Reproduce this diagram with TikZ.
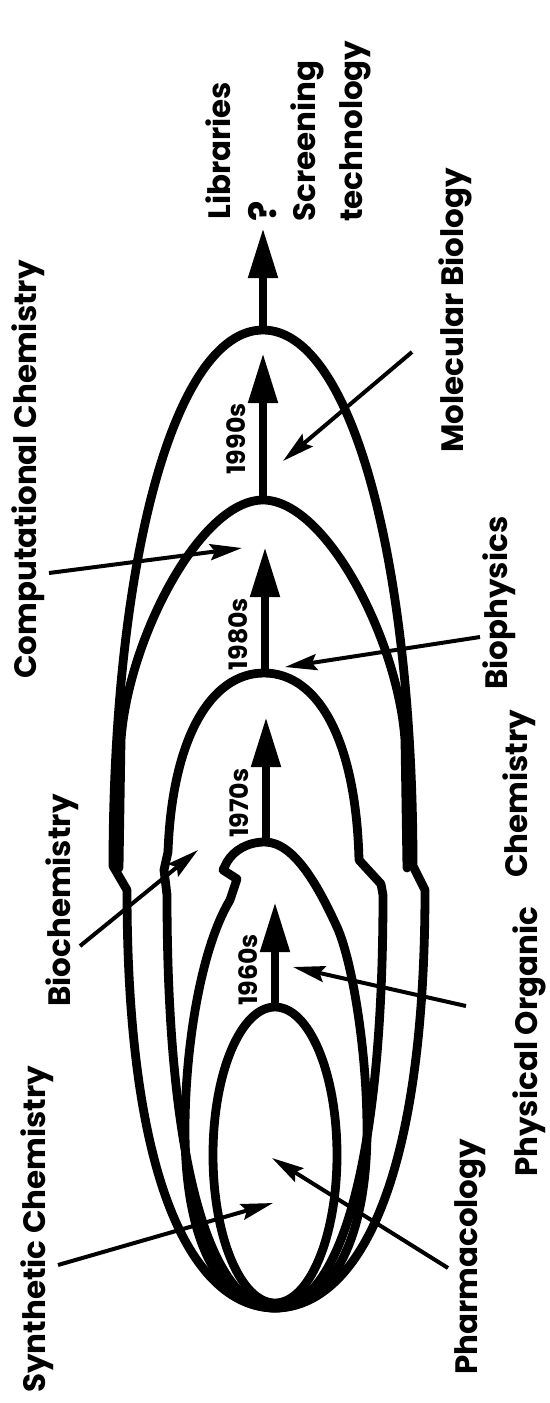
\documentclass[tikz,border=0pt]{standalone}
\usepackage{fontspec}
\setmainfont{Poppins}
\usetikzlibrary{arrows.meta}
\tikzset{
  shell/.style={line width=0.22cm,line join=round,line cap=round},     % nested era outline
  era/.style={-{Triangle[length=1.25cm,width=0.7cm]},line width=0.2cm}, % decade arrow
  ptr/.style={-{Stealth[length=0.8cm,width=0.4cm,inset=0.12cm]},line width=0.1cm}, % field pointer
  lbl/.style={rotate=90,anchor=base west,inner sep=0pt,font=\bfseries\fontsize{22}{26}\selectfont},
  yr/.style={rotate=90,inner sep=0pt,font=\bfseries\fontsize{18}{20}\selectfont},
}

\begin{document}
\begin{tikzpicture}[x=0.025cm,y=-0.025cm]
  \useasboundingbox (0,0) rectangle (550,1403);
  \fill[white] (0,0) rectangle (550,1403);
  % nested shells, all touching at the bottom
  \draw[shell] (275,1308) .. controls (200,1308) and (127,1200) .. (127,890) -- (113,866)
    .. controls (113,560) and (175,330) .. (263,330) .. controls (351,330) and (413,560) .. (413,866)
    -- (425,890) .. controls (425,1200) and (350,1308) .. (275,1308) -- cycle; % outer
  \draw[shell] (119,868) -- (121,740) .. controls (128,640) and (200,500) .. (263,500)
    .. controls (326,500) and (398,640) .. (405,740) -- (407,868);            % 1990s shell
  \draw[shell] (275,1308) .. controls (215,1308) and (167,1180) .. (167,895) -- (164,870) -- (168,852)
    .. controls (172,740) and (210,673) .. (264,673) .. controls (318,673) and (356,740) .. (359,860)
    -- (381,884) -- (383,895) .. controls (383,1180) and (335,1308) .. (275,1308) -- cycle; % 1980s
  \draw[shell] (275,1308) .. controls (225,1308) and (185,1250) .. (185,1130)
    .. controls (185,1050) and (200,950) .. (230,900) -- (237,879) -- (223,870) -- (227,862)
    .. controls (234,850) and (248,842) .. (265,842) .. controls (295,842) and (320,890) .. (337,927)
    .. controls (352,960) and (367,1050) .. (367,1130) .. controls (367,1250) and (325,1308) .. (275,1308) -- cycle; % 1970s
  \draw[shell] (275,1155) ellipse [x radius=62,y radius=148]; % 1960s

  % decade arrows
  \foreach \nm/\xx/\yb/\yt/\ly in {1960s/275/1007/902/970,1970s/266/842/717/803,
                                   1980s/265/673/547/634,1990s/263/500/353/439}{
    \coordinate (b\nm) at (\xx,\yb);
    \coordinate (t\nm) at (\xx,\yt);
    \draw[era] (b\nm) -- (t\nm);
    \node[yr] (l\nm) at (\xx-27,\ly) {\nm};
  }
  \coordinate (bnext) at (263,330);
  \coordinate (tnext) at (263,228);
  \draw[era] (bnext) -- (tnext);
  \node[rotate=90,inner sep=0pt,font=\bfseries\fontsize{27}{30}\selectfont] (qm) at (263,211) {?};

  % pointers from the fields
  \coordinate (syn-t) at (58,1265);  \coordinate (syn-h) at (273,1203);
  \coordinate (pha-t) at (448,1268); \coordinate (pha-h) at (272,1158);
  \coordinate (phy-t) at (466,1006); \coordinate (phy-h) at (293,967);
  \coordinate (bch-t) at (80,946);   \coordinate (bch-h) at (198,850);
  \coordinate (com-t) at (49,573);   \coordinate (com-h) at (242,548);
  \coordinate (bph-t) at (480,637);  \coordinate (bph-h) at (285,667);
  \coordinate (mol-t) at (412,352);  \coordinate (mol-h) at (283,461);
  \foreach \lb in {syn,pha,phy,bch,com,bph,mol}
    \draw[ptr] (\lb-t) -- (\lb-h);

  % field labels
  \node[lbl] (synth) at (46,1393) {Synthetic Chemistry};
  \node[lbl] (pharm) at (477,1375) {Pharmacology};
  \node[lbl] (phys)  at (537,1177) {Physical Organic};
  \node[lbl] (chem)  at (527,878)  {Chemistry};
  \node[lbl] (bioch) at (70,1007)  {Biochemistry};
  \node[lbl] (comp)  at (36,679)   {Computational Chemistry};
  \node[lbl] (bioph) at (507,690)  {Biophysics};
  \node[lbl] (molb)  at (463,453)  {Molecular Biology};
  \node[lbl] (libr)  at (230,220)  {Libraries};
  \node[lbl] (scrn)  at (315,222)  {Screening};
  \node[lbl] (tech)  at (362,222)  {technology};
\end{tikzpicture}
\end{document}
